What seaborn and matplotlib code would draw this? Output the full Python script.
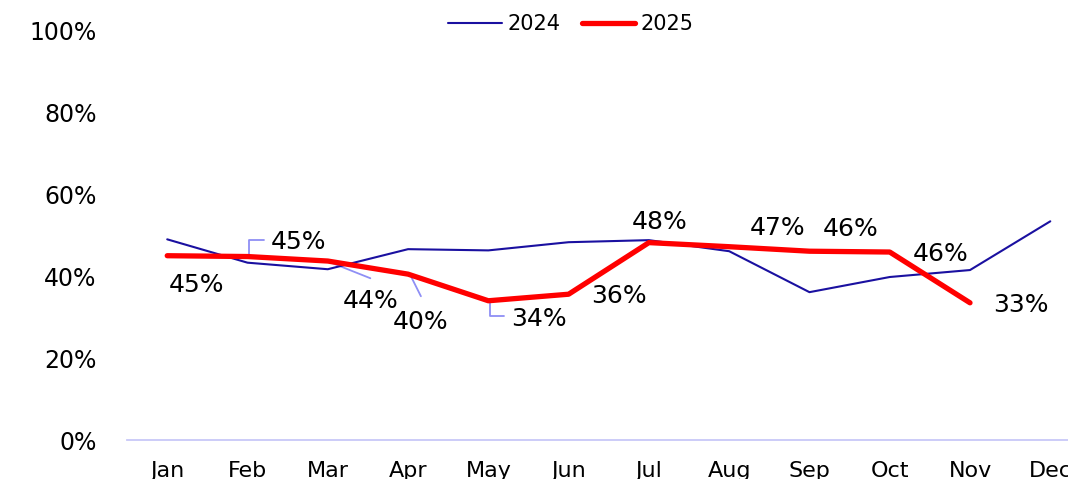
import matplotlib
matplotlib.use("Agg")
import matplotlib.pyplot as plt
import seaborn as sns
import pandas as pd

months = ["Jan", "Feb", "Mar", "Apr", "May", "Jun", "Jul", "Aug", "Sep", "Oct", "Nov", "Dec"]
vals_2024 = [0.49, 0.433, 0.417, 0.466, 0.463, 0.483, 0.488, 0.461, 0.361, 0.398, 0.415, 0.534]
vals_2025 = [0.45, 0.448, 0.437, 0.405, 0.34, 0.356, 0.482, 0.472, 0.461, 0.459, 0.335]
labels_2025 = ["45%", "45%", "44%", "40%", "34%", "36%", "48%", "47%", "46%", "46%", "33%"]

# label layout (data coords) and leader lines
label_pos = [(0.37, 0.378), (1.63, 0.483), (2.53, 0.339), (3.16, 0.288), (4.63, 0.295),
             (5.63, 0.351), (6.13, 0.532), (7.6, 0.517), (8.51, 0.515), (9.63, 0.454), (10.63, 0.329)]
leaders = {
    1: ([1.02, 1.02, 1.2], [0.45, 0.488, 0.488]),
    2: ([2.03, 2.53], [0.434, 0.395]),
    3: ([3.03, 3.16], [0.402, 0.351]),
    4: ([4.02, 4.02, 4.19], [0.341, 0.302, 0.302]),
}

df = pd.concat([
    pd.DataFrame({"month": months, "idx": range(12), "value": vals_2024, "year": "2024"}),
    pd.DataFrame({"month": months[:len(vals_2025)], "idx": range(len(vals_2025)), "value": vals_2025, "year": "2025"}),
])

sns.set_theme(style="white")
plt.rcParams["font.family"] = ["DejaVu Sans"]
plt.rcParams["text.color"] = "black"
plt.rcParams["xtick.color"] = "black"
plt.rcParams["ytick.color"] = "black"

fig = plt.figure(figsize=(10.68, 4.79), dpi=100)
ax = fig.add_axes([0.119, 0.0814, 0.902, 0.855])

sns.lineplot(data=df, x="idx", y="value", hue="year", size="year",
             palette={"2024": "#1a10a0", "2025": "#ff0000"},
             sizes={"2024": 1.5, "2025": 3.8}, ax=ax, sort=False)

for i, (lx, ly) in leaders.items():
    ax.plot(lx, ly, color="#8f8ff5", lw=1.3, zorder=1)

for i, t in enumerate(labels_2025):
    x, y = label_pos[i]
    ax.text(x, y, t, ha="center", va="center", fontsize=18, color="black")

ax.set_xlim(-0.5, 11.5)
ax.set_ylim(0, 1.0)
ax.set_xticks(range(12))
ax.set_xticklabels(months, fontsize=16, family=["Liberation Sans Narrow", "DejaVu Sans"])
ax.set_yticks([0, 0.2, 0.4, 0.6, 0.8, 1.0])
ax.set_yticklabels(["0%", "20%", "40%", "60%", "80%", "100%"], fontsize=17)
ax.tick_params(axis="y", length=0, pad=22)
ax.tick_params(axis="x", length=0, pad=15)
ax.set_xlabel("")
ax.set_ylabel("")
for s in ["left", "right", "top"]:
    ax.spines[s].set_visible(False)
ax.spines["bottom"].set_color("#c8c8f8")
ax.spines["bottom"].set_linewidth(1.3)

h, l = ax.get_legend_handles_labels()
ax.legend(h, l, loc="upper center", bbox_to_anchor=(0.461, 1.085),
          ncol=2, frameon=False, fontsize=15, handlelength=2.55, columnspacing=1.0, handletextpad=0.3)

fig.savefig("out.png", dpi=100)
